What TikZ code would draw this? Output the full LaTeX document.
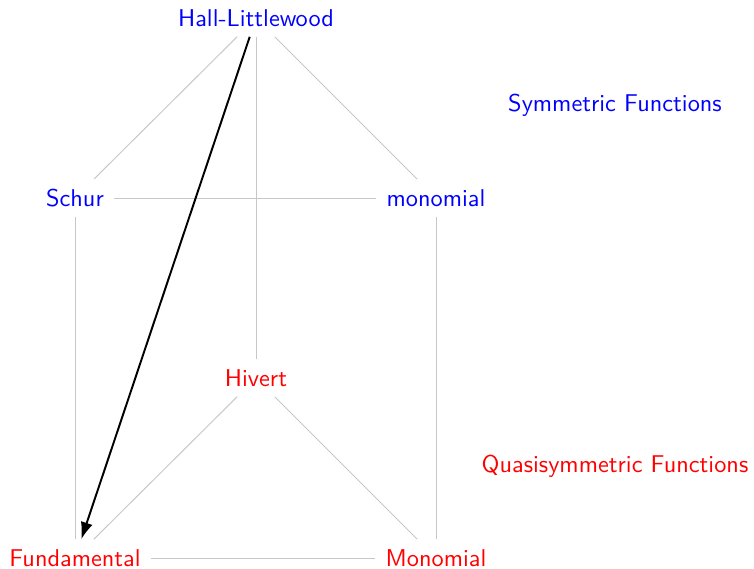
\documentclass[tikz,border=0pt]{standalone}
\usetikzlibrary{arrows.meta}
\begin{document}
\begin{tikzpicture}[x=0.4115pt,y=-0.4115pt,font=\sffamily,
  sym/.style={text=blue,inner sep=4pt},
  qsym/.style={text=red,inner sep=4pt},
  edge/.style={draw=black!22,line width=0.4pt},
  bigarrow/.style={draw=black,thick,-{Latex[length=7pt,width=5pt]}}]
\useasboundingbox (0,0) rectangle (754,568);
\node[sym] (HL) at (256,18) {Hall-Littlewood};
\node[sym] (S) at (75,198) {Schur};
\node[sym] (m) at (436,198) {monomial};
\node[qsym] (H) at (256,378) {Hivert};
\node[qsym] (F) at (75,558) {Fundamental};
\node[qsym] (M) at (436,558) {Monomial};
\node[text=blue] (symlab) at (615,105) {Symmetric Functions};
\node[text=red] (qsymlab) at (615,466) {Quasisymmetric Functions};
\draw[edge] (HL) -- (S);
\draw[edge] (HL) -- (m);
\draw[edge] (HL) -- (H);
\draw[edge] (S) -- (m);
\draw[edge] (S) -- (F);
\draw[edge] (m) -- (M);
\draw[edge] (H) -- (F);
\draw[edge] (H) -- (M);
\draw[edge] (F) -- (M);
\draw[bigarrow] (HL) -- (F);
\end{tikzpicture}
\end{document}
